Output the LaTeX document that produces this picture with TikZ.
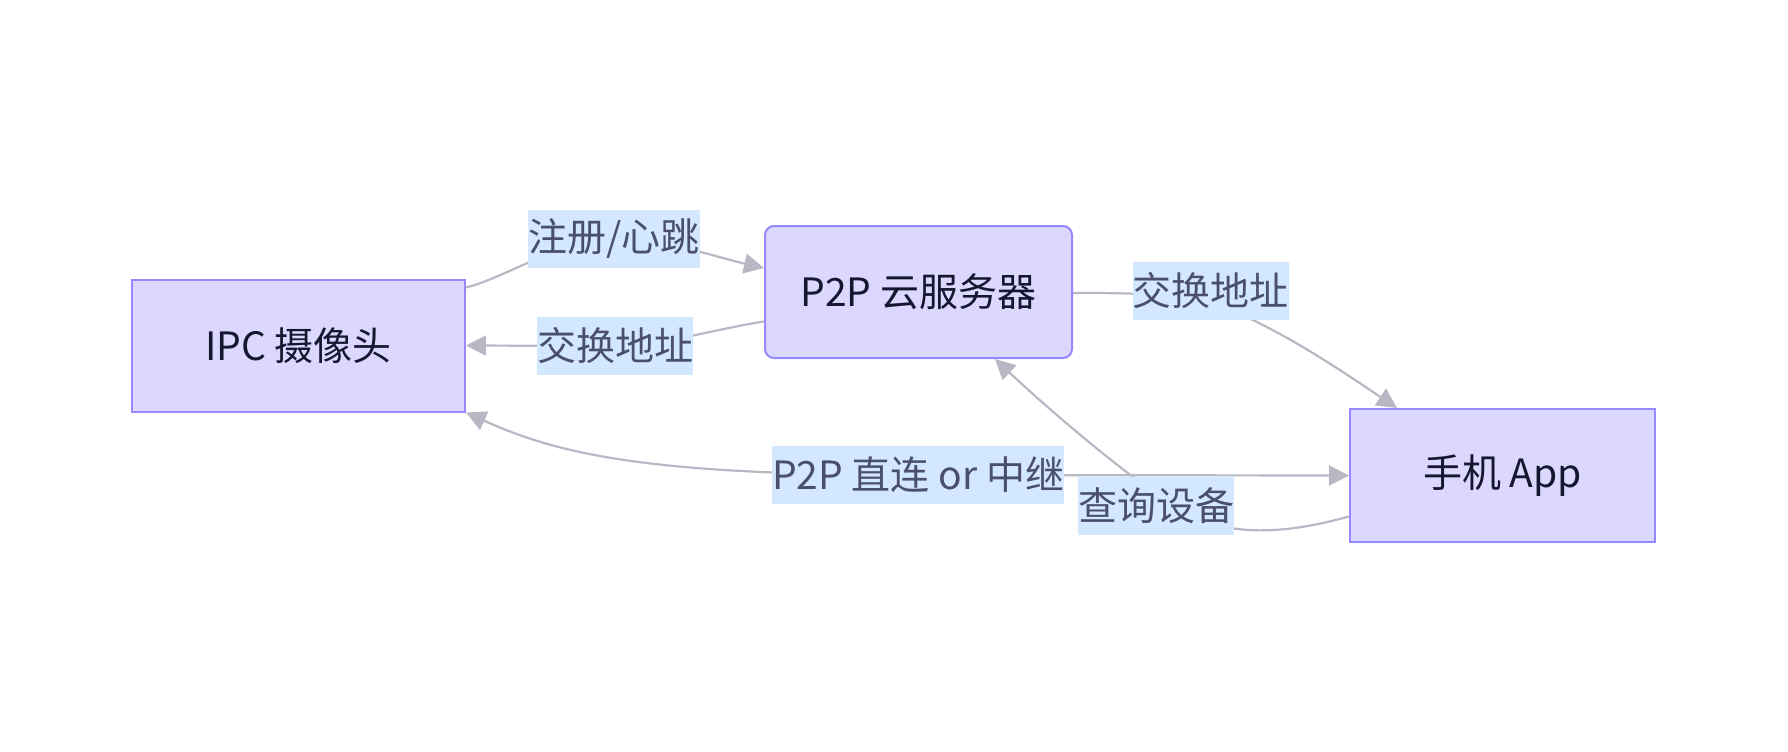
\documentclass[tikz,border=0pt]{standalone}
\usepackage{fontspec}
\setmainfont{Noto Sans CJK SC}
\usetikzlibrary{arrows.meta}
\definecolor{nodefill}{RGB}{220,215,255}
\definecolor{nodestroke}{RGB}{150,136,255}
\definecolor{nodetext}{RGB}{22,22,48}
\definecolor{lblfill}{RGB}{211,232,255}
\definecolor{lbltext}{RGB}{74,80,108}
\definecolor{edgecol}{RGB}{184,184,196}
\tikzset{
  box/.style={draw=nodestroke, fill=nodefill, line width=2pt, inner sep=0pt,
    text=nodetext, font=\fontsize{39}{47}\selectfont, minimum height=132pt},
  lbl/.style={fill=lblfill, text=lbltext, inner xsep=0pt, inner ysep=0pt,
    minimum height=58pt, font=\fontsize{39}{47}\selectfont},
  edge/.style={draw=edgecol, line width=2.2pt},
  tip/.tip={Triangle[length=20pt,width=20pt]},
  arr/.style={-tip}
}
\begin{document}
\begin{tikzpicture}[x=1pt,y=-1pt]
\useasboundingbox (0,0) rectangle (1788,752);
\node[box, minimum width=333pt] (ipc) at (298.5,345.5) {IPC 摄像头};
\node[box, minimum width=307pt, rounded corners=9pt] (srv) at (918.5,292) {P2P 云服务器};
\node[box, minimum width=305pt, minimum height=133pt] (app) at (1502.5,475.5) {手机 App};
\coordinate (c1) at (614,238.5);
\coordinate (c2) at (615,346);
\coordinate (c3) at (1210.5,291);
\coordinate (c4) at (918,475);
\coordinate (c5) at (1156,506);
\coordinate (m3) at (1210,302);
\coordinate (m5) at (1190,515);
% edges
\draw[edge,arr] ([yshift=-9pt]ipc.north east) .. controls (505,278) and (560,240) .. (c1)
  .. controls (660,238) and (720,258) .. ([yshift=24pt]srv.west);
\draw[edge,arr] ([yshift=-29.5pt]srv.west) .. controls (720,328) and (660,346) .. (c2) -- (ipc.east);
\draw[edge,arr] ([yshift=-1pt]srv.east) .. controls (1120,293) and (1170,293) .. (m3)
  .. controls (1275,325) and (1340,370) .. ([xshift=-105.5pt]app.north);
\draw[edge,tip-tip] (ipc.south east) .. controls (560,455) and (650,475) .. (c4) -- (app.west);
\draw[edge,arr] ([yshift=-41pt]app.west) .. controls (1300,530) and (1240,540) .. (m5)
  .. controls (1150,495) and (1060,420) .. ([xshift=76.5pt]srv.south);
% labels
\node[lbl] (l1) at (c1) {注册/心跳};
\node[lbl] (l2) at (c2) {交换地址};
\node[lbl] (l3) at (c3) {交换地址};
\node[lbl] (l4) at (c4) {P2P 直连 or 中继};
\node[lbl] (l5) at (c5) {查询设备};
\end{tikzpicture}
\end{document}
